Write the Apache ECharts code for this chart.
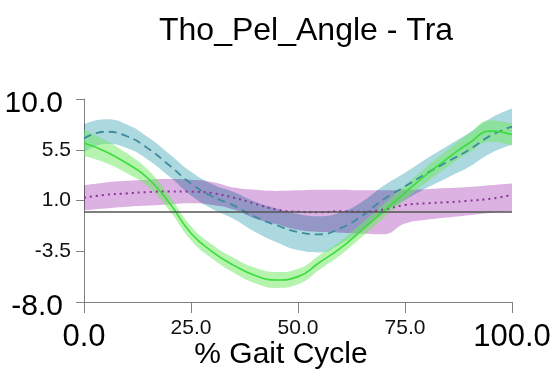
<!DOCTYPE html>
<html>
<head>
<meta charset="utf-8">
<script src="https://cdn.jsdelivr.net/npm/echarts@6/dist/echarts.min.js"></script>
<style>
  html, body { margin: 0; padding: 0; background: #fff; }
  #chart { width: 553px; height: 378px; }
</style>
</head>
<body>
<div id="chart"></div>
<script>
// % gait cycle, one point every 5 %
const gaitPct = ['0', '5', '10', '15', '20', '25', '30', '35', '40', '45', '50',
                 '55', '60', '65', '70', '75', '80', '85', '90', '95', '100'];
const yTicks = [-8, -3.5, 1, 5.5, 10];

// green (solid) mean and sd
const greenMean = [6.1, 5.35, 4.3, 2.95, 0.75, -1.9, -3.55, -4.75, -5.65, -6.05, -5.75,
                   -4.5, -3.2, -1.6, 0.05, 1.7, 3.3, 4.75, 6.1, 7.15, 6.85];
const greenSd = [1.15, 1.0, 0.88, 0.75, 0.65, 0.62, 0.62, 0.65, 0.68, 0.7, 0.68,
                 0.64, 0.62, 0.62, 0.62, 0.64, 0.68, 0.75, 0.85, 0.95, 1.0];

// teal (dashed) mean and sd
const tealMean = [6.5, 7.1, 6.7, 5.6, 4.1, 2.5, 1.35, 0.55, -0.45, -1.2, -1.8,
                  -2.0, -1.45, -0.35, 1.1, 2.25, 3.4, 4.45, 5.5, 6.75, 7.55];
const tealSd = [1.25, 1.1, 1.05, 1.0, 1.0, 1.05, 1.1, 1.2, 1.35, 1.5, 1.6,
                1.6, 1.4, 1.25, 1.2, 1.2, 1.3, 1.4, 1.5, 1.55, 1.6];

// purple (dotted) mean, band low / high
const purpleMean = [1.25, 1.5, 1.63, 1.75, 1.8, 1.78, 1.65, 1.25, 0.7, 0.2, 0.0,
                    -0.05, 0.05, 0.0, 0.2, 0.6, 0.75, 0.85, 0.98, 1.15, 1.5];
const purpleHigh = [2.35, 2.6, 2.75, 2.85, 2.9, 2.85, 2.65, 2.15, 1.95, 1.85, 1.9,
                    1.95, 1.95, 1.9, 1.9, 1.95, 2.0, 2.1, 2.2, 2.35, 2.5];
const purpleLow = [0.15, 0.3, 0.45, 0.55, 0.65, 0.75, 0.6, 0.2, -0.6, -1.1, -1.6,
                   -1.8, -1.85, -1.95, -2.0, -1.05, -0.7, -0.5, -0.3, -0.1, 0.05];

const FONT = 'Arial, "Liberation Sans", sans-serif';

// band = lower line (invisible) + stacked width with area
function band(id, lower, upper, color, blend, z) {
  const width = upper.map((u, i) => +(u - lower[i]).toFixed(3));
  const base = {
    type: 'line', stack: id, stackStrategy: 'all', symbol: 'none', smooth: true,
    silent: true, lineStyle: { opacity: 0 }, z: z
  };
  return [
    Object.assign({}, base, { name: id + '_lo', data: lower }),
    Object.assign({}, base, {
      name: id + '_w', data: width,
      areaStyle: { color: color, opacity: 1 },
      blendMode: blend
    })
  ];
}

const lo = (m, s) => m.map((v, i) => +(v - s[i]).toFixed(3));
const hi = (m, s) => m.map((v, i) => +(v + s[i]).toFixed(3));

const chart = echarts.init(document.getElementById('chart'), null, { renderer: 'canvas' });

const option = {
  animation: false,
  backgroundColor: '#fff',
  title: {
    text: 'Tho_Pel_Angle - Tra',
    left: 154,
    top: 10,
    textStyle: { fontSize: 32, fontWeight: 'normal', color: '#000', fontFamily: FONT }
  },
  grid: { left: 84, right: 41, top: 99, bottom: 76, outerBoundsMode: 'none' },
  xAxis: {
    type: 'category',
    data: gaitPct,
    boundaryGap: false,
    name: '% Gait Cycle',
    nameLocation: 'middle',
    nameGap: 38,
    nameMoveOverlap: false,
    nameTextStyle: { fontSize: 30, color: '#000', fontFamily: FONT, padding: [0, 34, 0, 0] },
    axisLine: { onZero: false, lineStyle: { color: '#808080', width: 1 } },
    axisTick: { interval: 4, length: 11, lineStyle: { color: '#808080' } },
    axisLabel: {
      interval: 4,
      margin: 16,
      formatter: v => {
        const t = Number(v).toFixed(1);
        return (v === '0' || v === '100') ? '{big|' + t + '}' : '{small|' + t + '}';
      },
      rich: {
        big: { fontSize: 31, lineHeight: 31, color: '#000', fontFamily: FONT, padding: [7, 0, 0, 0] },
        small: { fontSize: 21, lineHeight: 21, color: '#111', fontFamily: FONT }
      }
    },
    splitLine: { show: false }
  },
  yAxis: {
    type: 'value',
    min: -8,
    max: 10,
    axisLine: { show: true, lineStyle: { color: '#808080', width: 1 } },
    axisTick: { show: true, length: 8, customValues: yTicks, lineStyle: { color: '#808080' } },
    axisLabel: {
      margin: 13,
      customValues: yTicks,
      formatter: v => {
        const t = Number(v).toFixed(1);
        return (v === 10 || v === -8) ? '{big|' + t + '}' : '{small|' + t + '}';
      },
      rich: {
        big: { fontSize: 30, color: '#000', fontFamily: FONT, padding: [9, 8, 0, 0] },
        small: { fontSize: 21, color: '#111', fontFamily: FONT }
      }
    },
    splitLine: { show: false }
  },
  series: [
    ...band('purple', purpleLow, purpleHigh, '#dbb2e2', 'multiply', 1),
    ...band('teal', lo(tealMean, tealSd), hi(tealMean, tealSd), '#acd8e0', 'multiply', 1),
    ...band('green', lo(greenMean, greenSd), hi(greenMean, greenSd), 'rgba(115,232,100,0.52)', null, 2),
    {
      name: 'purple', type: 'line', data: purpleMean, symbol: 'none', smooth: true, silent: true, z: 3,
      lineStyle: { color: '#8c3399', width: 2, type: [2, 4] }
    },
    {
      name: 'teal', type: 'line', data: tealMean, symbol: 'none', smooth: true, silent: true, z: 3,
      lineStyle: { color: '#3d8c9c', width: 1.8, type: [8, 5] }
    },
    {
      name: 'green', type: 'line', data: greenMean, symbol: 'none', smooth: true, silent: true, z: 3,
      lineStyle: { color: '#3ade3a', width: 1.6 },
      markLine: {
        silent: true,
        symbol: 'none',
        label: { show: false },
        lineStyle: { color: '#555', width: 1.6, type: 'solid' },
        data: [{ yAxis: 0 }]
      }
    }
  ]
};

chart.setOption(option);
</script>
</body>
</html>
